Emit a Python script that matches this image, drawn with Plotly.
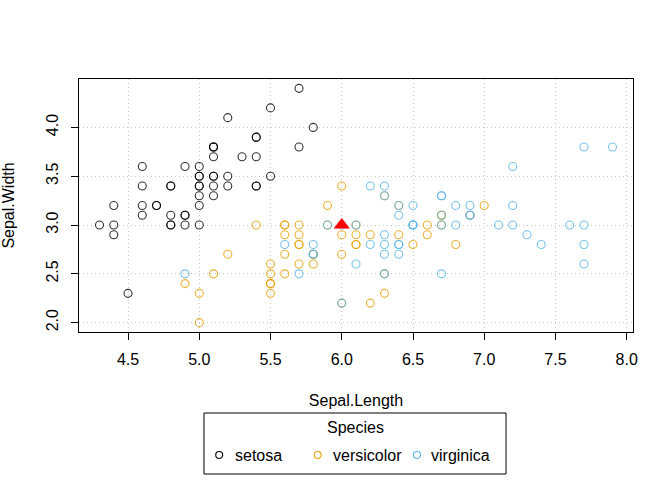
import plotly.graph_objects as go

species = ["setosa", "versicolor", "virginica"]
colors = ["black", "#E69F00", "#56B4E9"]

setosa_sl = [5.1,4.9,4.7,4.6,5.0,5.4,4.6,5.0,4.4,4.9,5.4,4.8,4.8,4.3,5.8,5.7,5.4,5.1,5.7,5.1,5.4,5.1,4.6,5.1,4.8,5.0,5.0,5.2,5.2,4.7,4.8,5.4,5.2,5.5,4.9,5.0,5.5,4.9,4.4,5.1,5.0,4.5,4.4,5.0,5.1,4.8,5.1,4.6,5.3,5.0]
setosa_sw = [3.5,3.0,3.2,3.1,3.6,3.9,3.4,3.4,2.9,3.1,3.7,3.4,3.0,3.0,4.0,4.4,3.9,3.5,3.8,3.8,3.4,3.7,3.6,3.3,3.4,3.0,3.4,3.5,3.4,3.2,3.1,3.4,4.1,4.2,3.1,3.2,3.5,3.6,3.0,3.4,3.5,2.3,3.2,3.5,3.8,3.0,3.8,3.2,3.7,3.3]

versicolor_sl = [7.0,6.4,6.9,5.5,6.5,5.7,6.3,4.9,6.6,5.2,5.0,5.9,6.0,6.1,5.6,6.7,5.6,5.8,6.2,5.6,5.9,6.1,6.3,6.1,6.4,6.6,6.8,6.7,6.0,5.7,5.5,5.5,5.8,6.0,5.4,6.0,6.7,6.3,5.6,5.5,5.5,6.1,5.8,5.0,5.6,5.7,5.7,6.2,5.1,5.7]
versicolor_sw = [3.2,3.2,3.1,2.3,2.8,2.8,3.3,2.4,2.9,2.7,2.0,3.0,2.2,2.9,2.9,3.1,3.0,2.7,2.2,2.5,3.2,2.8,2.5,2.8,2.9,3.0,2.8,3.0,2.9,2.6,2.4,2.4,2.7,2.7,3.0,3.4,3.1,2.3,3.0,2.5,2.6,3.0,2.6,2.3,2.7,3.0,2.9,2.9,2.5,2.8]

virginica_sl = [6.3,5.8,7.1,6.3,6.5,7.6,4.9,7.3,6.7,7.2,6.5,6.4,6.8,5.7,5.8,6.4,6.5,7.7,7.7,6.0,6.9,5.6,7.7,6.3,6.7,7.2,6.2,6.1,6.4,7.2,7.4,7.9,6.4,6.3,6.1,7.7,6.3,6.4,6.0,6.9,6.7,6.9,5.8,6.8,6.7,6.7,6.3,6.5,6.2,5.9]
virginica_sw = [3.3,2.7,3.0,2.9,3.0,3.0,2.5,2.9,2.5,3.6,3.2,2.7,3.0,2.5,2.8,3.2,3.0,3.8,2.6,2.2,3.2,2.8,2.8,2.7,3.3,3.2,2.8,3.0,2.8,3.0,2.8,3.8,2.8,2.8,2.6,3.0,3.4,3.1,3.0,3.1,3.1,3.1,2.7,3.2,3.3,3.0,2.5,3.0,3.4,3.0]

new_point_x = [6.0]
new_point_y = [3.0]

x_ticks = [4.5, 5.0, 5.5, 6.0, 6.5, 7.0, 7.5, 8.0]
y_ticks = [2.0, 2.5, 3.0, 3.5, 4.0]

legend_title = "Species"

series_x = [setosa_sl, versicolor_sl, virginica_sl]
series_y = [setosa_sw, versicolor_sw, virginica_sw]

FONT = "Liberation Sans, Arial, sans-serif"

fig = go.Figure()
for name, col, xs, ys in zip(species, colors, series_x, series_y):
    fig.add_trace(go.Scatter(
        x=xs, y=ys, mode="markers", name=name, showlegend=False,
        marker=dict(symbol="circle-open", size=8, color=col, opacity=0.8,
                    line=dict(width=1.1, color=col)),
    ))

fig.add_trace(go.Scatter(
    x=new_point_x, y=new_point_y, mode="markers", showlegend=False,
    marker=dict(symbol="triangle-up", size=14, color="red", line=dict(width=0)),
))

axis_common = dict(
    showline=True, linecolor="black", linewidth=1, mirror=True,
    ticks="outside", ticklen=7, tickcolor="black", tickwidth=1,
    showgrid=True, gridcolor="#c8c8c8", griddash="1px,3px", gridwidth=1,
    zeroline=False, tickformat=".1f", automargin=False,
    tickfont=dict(family=FONT, size=16, color="black"),
)

fig.update_xaxes(
    range=[4.156, 8.044], tickvals=x_ticks, **axis_common,
    title=dict(text="Sepal.Length", font=dict(family=FONT, size=16, color="black"), standoff=27),
    ticklabelstandoff=6,
)
fig.update_yaxes(
    range=[1.904, 4.496], tickvals=y_ticks, tickangle=-90, **axis_common,
    title=dict(text="Sepal.Width", font=dict(family=FONT, size=16, color="black"), standoff=27),
    ticklabelstandoff=7,
)

# Legend box drawn below the plot (paper coordinates relative to plot area)
fig.add_shape(type="rect", xref="paper", yref="paper",
              x0=0.2256, x1=0.7708, y0=-0.5613, y1=-0.3202,
              line=dict(color="black", width=1), fillcolor="white", layer="above")
fig.add_annotation(text=legend_title, xref="paper", yref="paper", x=0.4988, y=-0.3794,
                   xanchor="center", yanchor="middle", showarrow=False,
                   font=dict(family=FONT, size=16, color="black"))
sym_x = [0.2531, 0.4309, 0.6101]
txt_x = [0.2780, 0.4549, 0.6318]
item_y = -0.4862
for name, col, sx, tx in zip(species, colors, sym_x, txt_x):
    fig.add_shape(type="circle", xref="paper", yref="paper",
                  xsizemode="pixel", ysizemode="pixel", xanchor=sx, yanchor=item_y,
                  x0=-3.5, x1=3.5, y0=-3.5, y1=3.5,
                  line=dict(color=col, width=1.1), fillcolor="rgba(0,0,0,0)", layer="above")
    fig.add_annotation(text=name, xref="paper", yref="paper", x=tx, y=item_y,
                       xanchor="left", yanchor="middle", showarrow=False,
                       font=dict(family=FONT, size=16, color="black"))

fig.update_layout(
    width=672, height=480,
    margin=dict(l=79, r=39, t=79, b=148, autoexpand=False),
    plot_bgcolor="white", paper_bgcolor="white",
    font=dict(family=FONT, size=16, color="black"),
    showlegend=False,
)

fig.write_html("out.html", config={"displayModeBar": False},
               post_script="document.body.style.margin='0';")
